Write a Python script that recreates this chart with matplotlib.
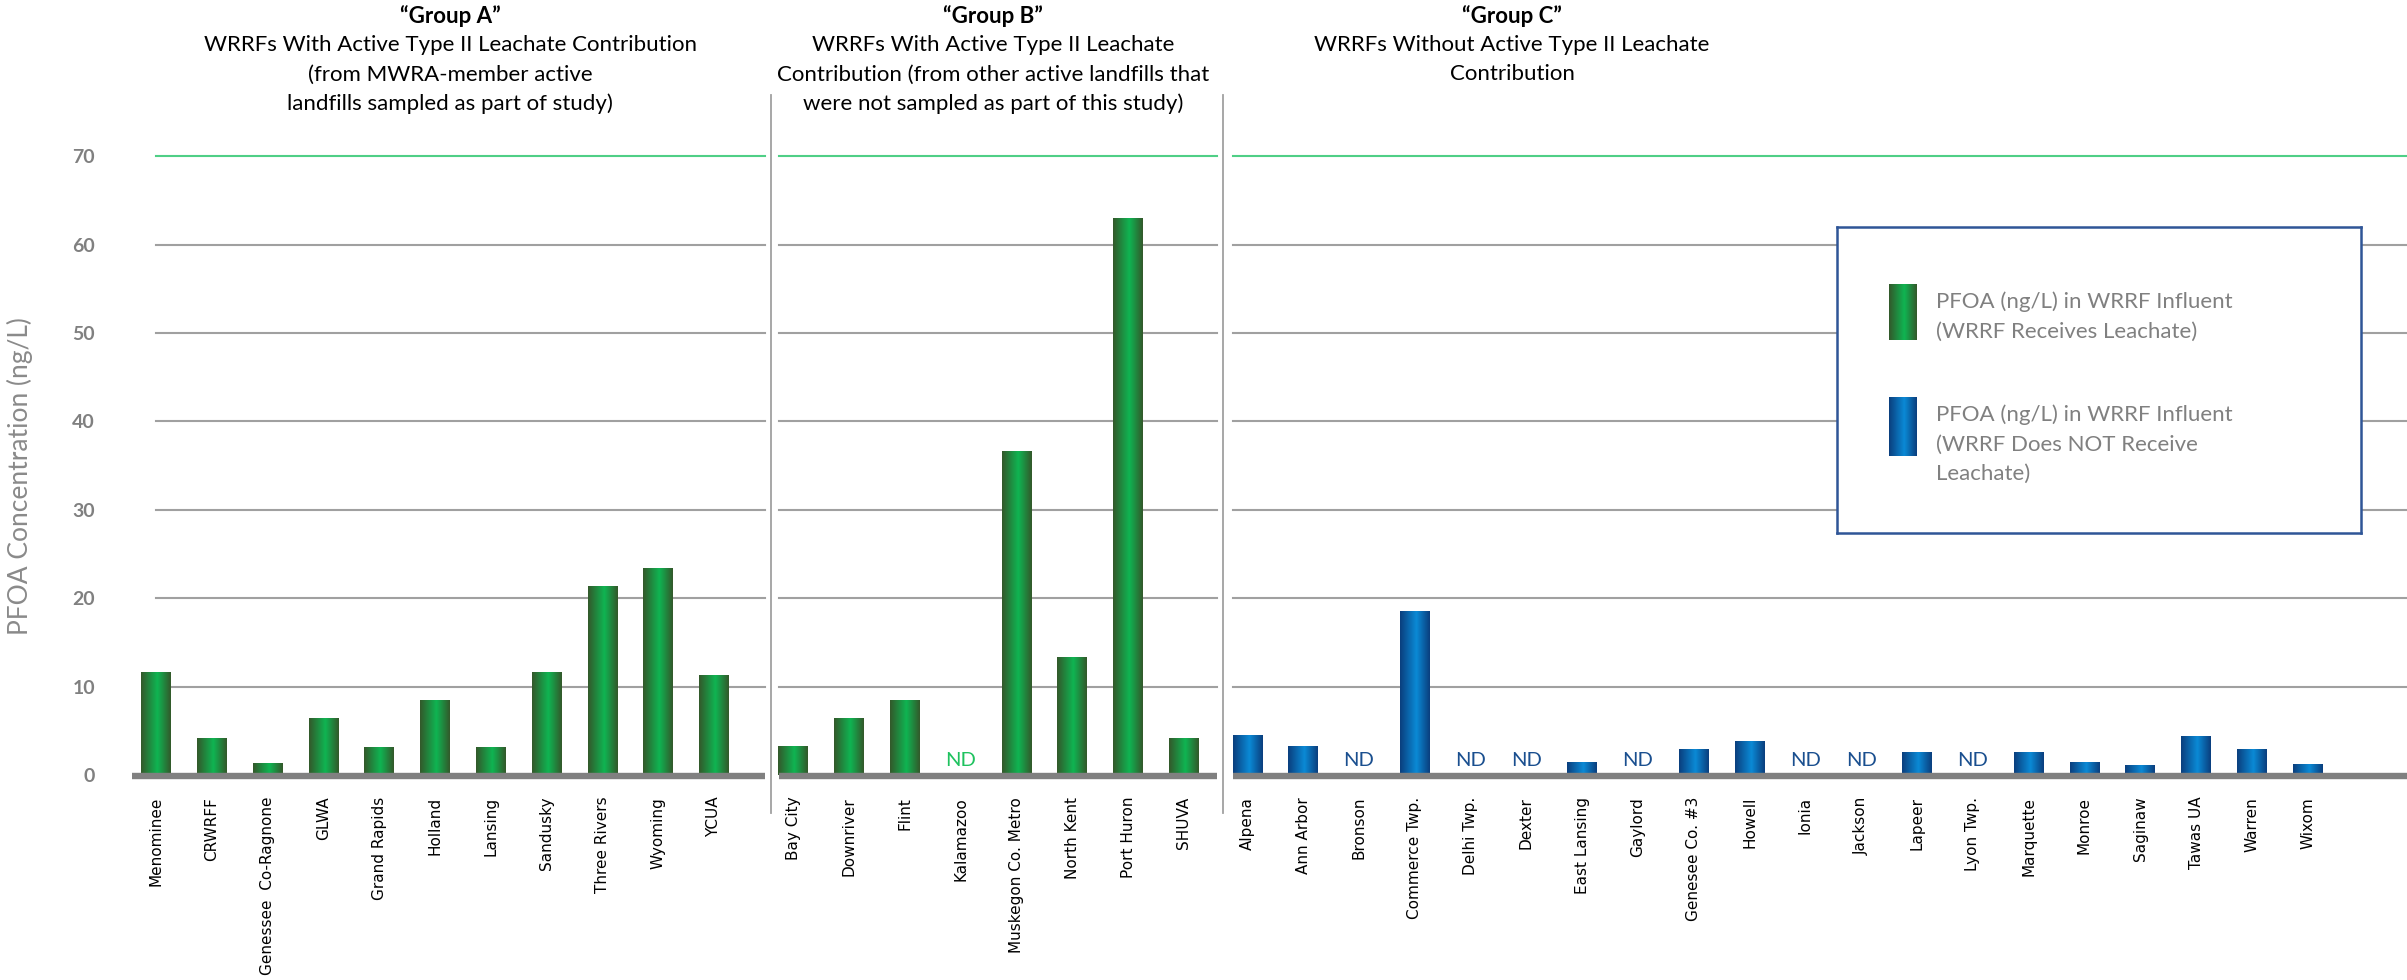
import numpy as np
import matplotlib.pyplot as plt
from matplotlib.colors import LinearSegmentedColormap
from matplotlib.transforms import blended_transform_factory

W, H, DPI = 2407, 980, 100

group_a_names = ["Menominee", "CRWRFF", "Genessee  Co-Ragnone", "GLWA", "Grand Rapids",
                 "Holland", "Lansing", "Sandusky", "Three Rivers", "Wyoming", "YCUA"]
group_a_vals = [11.6, 4.2, 1.4, 6.5, 3.2, 8.5, 3.2, 11.7, 21.4, 23.4, 11.3]

group_b_names = ["Bay City", "Downriver", "Flint", "Kalamazoo", "Muskegon Co. Metro",
                 "North Kent", "Port Huron", "SHUVA"]
group_b_vals = [3.3, 6.5, 8.5, np.nan, 36.6, 13.4, 63.0, 4.2]

group_c_names = ["Alpena", "Ann Arbor", "Bronson", "Commerce Twp.", "Delhi Twp.", "Dexter",
                 "East Lansing", "Gaylord", "Genesee Co. #3", "Howell", "Ionia", "Jackson",
                 "Lapeer", "Lyon Twp.", "Marquette", "Monroe", "Saginaw", "Tawas UA",
                 "Warren", "Wixom"]
group_c_vals = [4.5, 3.3, np.nan, 18.5, np.nan, np.nan, 1.5, np.nan, 2.9, 3.9, np.nan, np.nan,
                2.6, np.nan, 2.6, 1.5, 1.1, 4.4, 2.9, 1.3]

y_ticks = [0, 10, 20, 30, 40, 50, 60, 70]

headers = [
    ("\u201cGroup A\u201d", ["WRRFs With Active Type II Leachate Contribution",
                            "(from MWRA-member active",
                            "landfills sampled as part of study)"]),
    ("\u201cGroup B\u201d", ["WRRFs With Active Type II Leachate",
                            "Contribution (from other active landfills that",
                            "were not sampled as part of this study)"]),
    ("\u201cGroup C\u201d", ["WRRFs Without Active Type II Leachate",
                            "Contribution"]),
]
legend_labels = [["PFOA (ng/L) in WRRF Influent", "(WRRF Receives Leachate)"],
                 ["PFOA (ng/L) in WRRF Influent", "(WRRF Does NOT Receive", "Leachate)"]]

GREEN_EDGE, GREEN_MID = "#33592b", "#0fb552"
BLUE_EDGE, BLUE_MID = "#0b3f7e", "#0a8ad6"
GRID = "#a0a0a0"

# layout in pixels
PX = 55.8        # px per bar slot
UNIT = 8.84      # px per ng/L
X0 = 156         # px of first bar centre
Y0 = 205         # px of zero (from bottom)
BAR_W = 0.53

pos_a = np.arange(len(group_a_vals), dtype=float)
pos_b = pos_a[-1] + 1.42 + np.arange(len(group_b_vals))
pos_c = pos_b[-1] + 1.14 + np.arange(len(group_c_vals))
div1 = pos_b[0] - 0.40
div2 = pos_c[0] - 0.44

fig = plt.figure(figsize=(W / DPI, H / DPI), dpi=DPI)
L = 120
ax = fig.add_axes([L / W, (Y0 - 2 * UNIT) / H, (W - L) / W, 80 * UNIT / H])
xmin, xmax = (L - X0) / PX, (W - X0) / PX
ax.set_xlim(xmin, xmax)
ax.set_ylim(-2, 78)
for s in ax.spines.values():
    s.set_visible(False)

grad = np.linspace(0, 1, 64).reshape(1, -1)


def grad_bars(x, vals, edge, mid):
    cmap = LinearSegmentedColormap.from_list("g", [(0, edge), (0.55, mid), (1, edge)])
    h = np.nan_to_num(np.array(vals, dtype=float))
    bars = ax.bar(x, h, width=BAR_W, color=mid, zorder=2, linewidth=0)
    for b in bars:
        if b.get_height() <= 0:
            continue
        im = ax.imshow(grad, cmap=cmap, aspect="auto", interpolation="bilinear",
                       extent=[b.get_x(), b.get_x() + b.get_width(), 0, b.get_height()],
                       zorder=2.1)
        im.set_clip_path(b)


grad_bars(pos_a, group_a_vals, GREEN_EDGE, GREEN_MID)
grad_bars(pos_b, group_b_vals, GREEN_EDGE, GREEN_MID)
grad_bars(pos_c, group_c_vals, BLUE_EDGE, BLUE_MID)

# ND markers
for pos, vals, col in [(pos_b, group_b_vals, "#1fc25f"), (pos_c, group_c_vals, "#1a4f8f")]:
    for x, v in zip(pos, vals):
        if np.isnan(v):
            ax.text(x, 1.0, "ND", color=col, ha="center", va="baseline", fontsize=14.5,
                    family="Lato")

# gridlines, split at the dividers
segments = [(0, div1 - 0.11), (div1 + 0.14, div2 - 0.11), (div2 + 0.18, xmax)]
for y in y_ticks[1:]:
    col = "#4fcf86" if y == 70 else GRID
    for a, b in segments:
        ax.plot([a, b], [y, y], color=col, lw=1.5, zorder=1)

# thick baseline
base_segs = [(-0.43, div1 - 0.11), (div1 + 0.14, div2 - 0.11), (div2 + 0.18, xmax)]
for a, b in base_segs:
    ax.plot([a, b], [-0.15, -0.15], color="#808080", lw=4.6, zorder=3, solid_capstyle="butt")

for d in (div1, div2):
    ax.plot([d, d], [-4.3, 76.9], color=GRID, lw=1.3, clip_on=False, zorder=1)

ax.set_yticks(y_ticks)
ax.set_yticklabels([str(v) for v in y_ticks], color="#808080", fontsize=14,
                   fontweight="bold", family="Lato")
ax.tick_params(axis="y", length=0, pad=18)

all_pos = np.concatenate([pos_a, pos_b, pos_c])
ax.set_xticks(all_pos)
ax.set_xticklabels(group_a_names + group_b_names + group_c_names, rotation=90,
                   fontsize=11, va="top", ha="center")
ax.tick_params(axis="x", length=0, pad=3)

fig.text(20 / W, 1 - 476 / H, "PFOA Concentration (ng/L)", rotation=90, ha="center",
         va="center", fontsize=19, color="#8a8a8a", family="Lato")

# group headers
trans = blended_transform_factory(ax.transData, fig.transFigure)
centres = [(450 - X0) / PX, (993 - X0) / PX, (1512 - X0) / PX]
for cx, (title, lines) in zip(centres, headers):
    fig.text(cx, 1 - 16 / H, title, transform=trans, ha="center", va="center",
             fontsize=16, fontweight="bold", family="Lato")
    for i, line in enumerate(lines):
        fig.text(cx, 1 - (45 + 29.5 * i) / H, line, transform=trans, ha="center",
                 va="center", fontsize=16, family="Lato")

# legend box
lx0, lx1, ly0, ly1 = 1837, 2361, 227, 533
lax = fig.add_axes([lx0 / W, 1 - ly1 / H, (lx1 - lx0) / W, (ly1 - ly0) / H])
lax.set_xticks([])
lax.set_yticks([])
lax.set_facecolor("white")
for s in lax.spines.values():
    s.set_color("#2f5597")
    s.set_linewidth(1.8)
for (edge, mid), lines, (py0, py1), ty in zip(
        [(GREEN_EDGE, GREEN_MID), (BLUE_EDGE, BLUE_MID)], legend_labels,
        [(284, 340), (398, 456)], [302, 415]):
    cmap = LinearSegmentedColormap.from_list("l", [(0, edge), (0.55, mid), (1, edge)])
    lax.imshow(grad, cmap=cmap, aspect="auto", interpolation="bilinear",
               extent=[1889 - lx0, 1917 - lx0, py1 - ly0, py0 - ly0])
    for i, line in enumerate(lines):
        lax.text(1936 - lx0, ty + 29.5 * i - ly0, line, ha="left", va="center",
                 fontsize=16, color="#808080", family="Lato")
lax.set_xlim(0, lx1 - lx0)
lax.set_ylim(ly1 - ly0, 0)

ax.set_xlim(xmin, xmax)
ax.set_ylim(-2, 78)
fig.savefig("out.png", dpi=DPI)
